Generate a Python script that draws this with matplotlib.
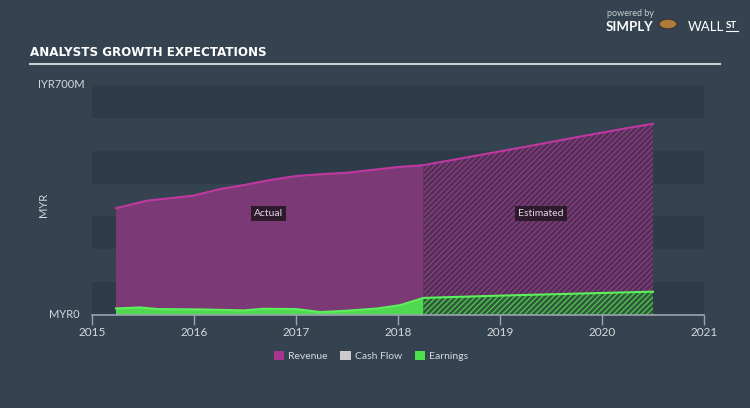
import matplotlib
matplotlib.use("Agg")
import matplotlib.pyplot as plt
from matplotlib.patches import Patch, Circle
import numpy as np

# ---- data ----
rev_actual_t = [2015.235, 2015.54, 2015.99, 2016.25, 2016.48, 2016.75, 2017.0, 2017.26, 2017.5, 2017.73, 2018.02, 2018.25]
rev_actual_v = [325, 348, 363, 383, 395, 411, 423, 429, 433, 441, 451, 456]
rev_est_t = [2018.25, 2018.75, 2019.25, 2019.75, 2020.25, 2020.5]
rev_est_v = [456, 484, 512, 541, 569, 582]

earn_actual_t = [2015.235, 2015.47, 2015.65, 2016.07, 2016.49, 2016.68, 2017.0, 2017.24, 2017.5, 2017.8, 2018.02, 2018.25]
earn_actual_v = [20, 23, 18, 17, 14, 19, 18, 9, 13, 20, 30, 52]
earn_est_t = [2018.25, 2019.0, 2019.75, 2020.5]
earn_est_v = [52, 59, 65, 71]

years = [2015, 2016, 2017, 2018, 2019, 2020, 2021]
legend_labels = ["Revenue", "Cash Flow", "Earnings"]
legend_colors = ["#a8348f", "#cccccc", "#4ce04c"]

BG = "#34434f"
BAND = "#2e3b48"
TXT = "#d4d8dc"

plt.rcParams['font.family'] = ['Lato', 'DejaVu Sans']
plt.rcParams['hatch.linewidth'] = 0.9

fig = plt.figure(figsize=(7.5, 4.08), dpi=100)
fig.patch.set_facecolor(BG)

W, H = 750, 408
ax = fig.add_axes([92 / W, (H - 315) / H, (704 - 92) / W, (315 - 85) / H])
ax.set_facecolor(BG)
ax.set_xlim(2015, 2021)
ax.set_ylim(0, 700)

for lo in (0, 200, 400, 600):
    ax.axhspan(lo, lo + 100, color=BAND, lw=0, zorder=0)

# revenue
ax.fill_between(rev_actual_t, 0, rev_actual_v, facecolor="#7b3a75", lw=0, zorder=1)
ax.fill_between(rev_est_t, 0, rev_est_v, facecolor="#523056", edgecolor="#8e3c86",
                hatch="//////", lw=0, zorder=1)
ax.plot(rev_actual_t + rev_est_t[1:], rev_actual_v + rev_est_v[1:], color="#c0389f", lw=1.5, zorder=3)

# earnings
ax.fill_between(earn_actual_t, 0, earn_actual_v, facecolor="#50d850", lw=0, zorder=2)
ax.fill_between(earn_est_t, 0, earn_est_v, facecolor="#2f5a3c", edgecolor="#52c852",
                hatch="//////", lw=0, zorder=2)
ax.plot(earn_actual_t + earn_est_t[1:], earn_actual_v + earn_est_v[1:], color="#5cf05c", lw=1.5, zorder=3)

# labels in plot
ax.text(2016.73, 310, "Actual", color="#e0d8e0", fontsize=7.5, ha="center", va="center", zorder=5,
        bbox=dict(boxstyle="square,pad=0.3", fc="#2d1a2d", ec="none"))
ax.text(2019.4, 310, "Estimated", color="#e0d8e0", fontsize=7.5, ha="center", va="center", zorder=5,
        bbox=dict(boxstyle="square,pad=0.3", fc="#2d1a2d", ec="none"))

for s in ("top", "right", "left"):
    ax.spines[s].set_visible(False)
ax.spines["bottom"].set_color("#9aa4ae")
ax.spines["bottom"].set_linewidth(1.2)
ax.set_yticks([])
ax.set_xticks(years)
ax.set_xticklabels([str(y) for y in years])
ax.tick_params(axis="x", colors="#9aa4ae", length=7, width=1, labelcolor=TXT, labelsize=8.5, pad=2)

# y labels
fig.text(38 / W, 1 - 85 / H, "IYR700M", color=TXT, fontsize=8, ha="left", va="center")
fig.text(80 / W, 1 - 315 / H, "MYR0", color=TXT, fontsize=8, ha="right", va="center")
fig.text(44 / W, 1 - 205 / H, "MYR", color=TXT, fontsize=8, ha="center", va="center", rotation=90)

# title
fig.text(30 / W, 1 - 53 / H, "ANALYSTS GROWTH EXPECTATIONS", color="white", fontsize=9.5,
         fontweight="bold", fontstretch="condensed", ha="left", va="center", family=['DejaVu Sans'])
fig.add_artist(plt.Line2D([30 / W, 720 / W], [1 - 64 / H, 1 - 64 / H], color="#c8ced4", lw=1.5))

# logo
fig.text(607 / W, 1 - 14 / H, "powered by", color="#c8ccd0", fontsize=6.5, ha="left", va="center")
fig.text(606 / W, 1 - 27 / H, "SIMPLY", color="white", fontsize=9.5, fontweight="bold", ha="left", va="center")
fig.text(688 / W, 1 - 27 / H, "WALL", color="white", fontsize=9.5, ha="left", va="center")
fig.text(726 / W, 1 - 26 / H, "ST", color="white", fontsize=7, fontweight="bold", ha="left", va="center")
fig.add_artist(plt.Line2D([726 / W, 738 / W], [1 - 31 / H, 1 - 31 / H], color="white", lw=0.8))
fig.add_artist(Circle((668 / W, 1 - 24 / H), 9 / W, transform=fig.transFigure, fc="#b07a3a", ec="#3a3a3a", lw=1))

# legend
handles = [Patch(facecolor=c, edgecolor="none", label=l) for l, c in zip(legend_labels, legend_colors)]
leg = fig.legend(handles=handles, loc="center", bbox_to_anchor=(371 / W, 1 - 356 / H), ncol=3,
                 frameon=False, fontsize=7.5, handlelength=1.0, handleheight=1.0,
                 handletextpad=0.4, columnspacing=1.2)
for t in leg.get_texts():
    t.set_color(TXT)

fig.savefig("out.png", dpi=100, facecolor=BG)
